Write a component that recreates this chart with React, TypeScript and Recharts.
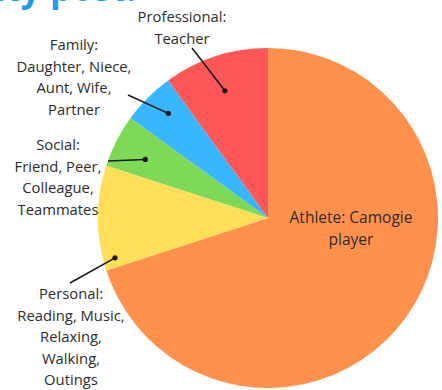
import React from "react";
import { PieChart, Pie, Cell } from "recharts";

// Share of identity, clockwise from 12 o'clock
const CATEGORIES = ["Athlete", "Personal", "Social", "Family", "Professional"];
const SHARES = [70, 10, 5, 5, 10];
const COLORS = ["#FF914D", "#FFDE59", "#7ED957", "#38B6FF", "#FF5757"];
const LABEL_LINES = [
  ["Athlete: Camogie", "player"],
  ["Personal:", "Reading, Music,", "Relaxing,", "Walking,", "Outings"],
  ["Social:", "Friend, Peer,", "Colleague,", "Teammates"],
  ["Family:", "Daughter, Niece,", "Aunt, Wife,", "Partner"],
  ["Professional:", "Teacher"],
];
const TITLE = "ity post:";

const data = CATEGORIES.map((name, i) => ({ name, value: SHARES[i] }));

// where each annotation sits; dot is placed on the slice (radius fraction, angle offset)
const LAYOUT = [
  { tx: 351, ty: 217, lx: 0, ly: 0, dotR: 0, dA: 0, arrow: false },
  { tx: 71, ty: 293, lx: 70, ly: 283, dotR: 0.93, dA: 14.6, arrow: true },
  { tx: 58, ty: 144, lx: 108, ly: 161, dotR: 0.8, dA: 1.5, arrow: true },
  { tx: 74, ty: 44, lx: 128, ly: 95, dotR: 0.85, dA: -1.4, arrow: true },
  { tx: 182, ty: 16, lx: 192, ly: 48, dotR: 0.79, dA: 0.7, arrow: true },
];

const LINE_H = 21.6;
const RAD = Math.PI / 180;

const renderLabel = (props: any) => {
  const { cx, cy, midAngle, outerRadius, index } = props;
  const lay = LAYOUT[index];
  const lines = LABEL_LINES[index];
  let dot = null;
  if (lay.arrow) {
    const a = (midAngle + lay.dA) * RAD;
    const r = outerRadius * lay.dotR;
    const dx = cx + r * Math.cos(-a);
    const dy = cy + r * Math.sin(-a);
    dot = (
      <g>
        <line x1={lay.lx} y1={lay.ly} x2={dx} y2={dy} stroke="#1a1a1a" strokeWidth={1.6} />
        <circle cx={dx} cy={dy} r={2.6} fill="#1a1a1a" />
      </g>
    );
  }
  return (
    <g key={`lbl-${index}`}>
      {dot}
      <text
        x={lay.tx}
        y={lay.ty}
        textAnchor="middle"
        fill="#2d2d2d"
        fontSize={index === 0 ? 15.5 : 14.8}
        fontWeight={500}
        fontFamily="'Open Sans', sans-serif"
      >
        {lines.map((t, j) => (
          <tspan key={j} x={lay.tx} y={lay.ty + j * LINE_H} dominantBaseline="central">
            {t}
          </tspan>
        ))}
      </text>
    </g>
  );
};

export default function App() {
  return (
    <div
      style={{
        position: "absolute",
        left: 0,
        top: 0,
        width: 442,
        height: 390,
        overflow: "hidden",
        background: "#fff",
      }}
    >
      <div
        style={{
          position: "absolute",
          left: -5,
          top: -32,
          fontFamily: "'Open Sans', sans-serif",
          fontWeight: 700,
          fontSize: 35,
          color: "#1E9BE6",
          lineHeight: "40px",
          whiteSpace: "nowrap",
        }}
      >
        {TITLE}
      </div>
      <PieChart width={442} height={390} style={{ position: "absolute", left: 0, top: 0 }}>
        <Pie
          data={data}
          dataKey="value"
          nameKey="name"
          cx={263}
          cy={213}
          outerRadius={170}
          startAngle={90}
          endAngle={-270}
          stroke="none"
          label={renderLabel}
          labelLine={false}
          isAnimationActive={false}
        >
          {data.map((d, i) => (
            <Cell key={d.name} fill={COLORS[i]} />
          ))}
        </Pie>
      </PieChart>
    </div>
  );
}
